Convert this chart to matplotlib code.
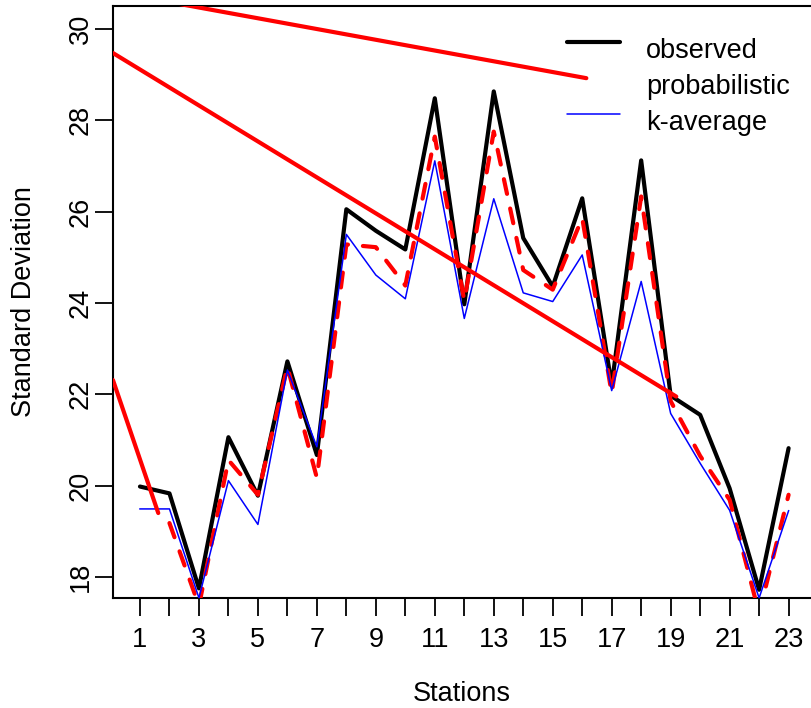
import numpy as np
import matplotlib
matplotlib.use("Agg")
import matplotlib.pyplot as plt

plt.rcParams['font.family'] = ['Liberation Sans', 'DejaVu Sans']

# ---- data ----
stations = np.arange(1, 24)
observed = [19.98, 19.83, 17.75, 21.06, 19.78, 22.72, 20.67, 26.05, 25.58, 25.17,
            28.48, 23.97, 28.63, 25.42, 24.36, 26.29, 22.2, 27.12, 21.97, 21.55,
            19.94, 17.72, 20.82]
probabilistic = [np.nan, 19.18, 17.37, 20.56, 19.8, 22.6, 20.17, 25.28, 25.22, 24.38,
                 27.64, 24.05, 27.75, 24.72, 24.29, 25.86, 22.02, 26.33, 21.85, 20.65,
                 19.69, 17.2, 19.8]
k_average = [19.49, 19.49, 17.54, 20.11, 19.15, 22.53, 20.85, 25.5, 24.61, 24.09,
             27.11, 23.66, 26.28, 24.22, 24.03, 25.05, 22.08, 24.47, 21.58, 20.49,
             19.46, 17.54, 19.45]

# stray red segments visible in the picture
stray_x = [[0.085, 1.62], [0.085, 19.19], [0.085, 16.14]]
stray_y = [[22.31, 19.40], [29.47, 21.95], [30.81, 28.92]]

legend_labels = ["observed", "probabilistic", "k-average"]
yticks = [18, 20, 22, 24, 26, 28, 30]
xtick_labels = [str(s) if s % 2 == 1 else "" for s in stations]

W, H = 811, 708
FS = 19.5
fig = plt.figure(figsize=(W / 100, H / 100), dpi=100)
ax = fig.add_axes([113 / W, 110 / H, (W - 113) / W, 592 / H])

ax.plot(stations, observed, color='black', lw=3, solid_joinstyle='round',
        solid_capstyle='round', zorder=3)
ax.plot(stations, probabilistic, color='red', lw=3, linestyle=(0, (3.6, 3.6)),
        dash_capstyle='round', dash_joinstyle='round', zorder=4)
ax.plot(stations, k_average, color='blue', lw=1.1, zorder=5)
for sx, sy in zip(stray_x, stray_y):
    ax.plot(sx, sy, color='red', lw=3, solid_capstyle='round', zorder=6)

ax.set_xlim(0.085, 23.76)
ax.set_ylim(17.54, 30.50)

ax.set_xticks(stations)
ax.set_xticklabels(xtick_labels, fontsize=FS)
ax.set_yticks(yticks)
ax.set_yticklabels([str(v) for v in yticks], fontsize=FS, rotation=90, va='center')
ax.tick_params(axis='x', length=13, width=1.3, pad=8, direction='out')
ax.tick_params(axis='y', length=13, width=1.3, pad=1, direction='out')
for s in ['left', 'bottom', 'top']:
    ax.spines[s].set_linewidth(1.5)
ax.spines['right'].set_visible(False)

fig.text(462 / W, 1 - 694 / H, "Stations", fontsize=FS, ha='center', va='center')
fig.text(24 / W, 1 - 302 / H, "Standard Deviation", fontsize=FS, ha='center', va='center',
         rotation=90)

# legend (drawn manually, no box)
leg_colors = ['black', 'red', 'blue']
leg_lw = [3, 3, 1.1]
for i, (lab, c, lw) in enumerate(zip(legend_labels, leg_colors, leg_lw)):
    base = 58.3 + 36 * i
    if i != 1:
        fig.add_artist(plt.Line2D([567 / W, 620 / W], [1 - (base - 16.6) / H] * 2,
                                  color=c, lw=lw, solid_capstyle='round'))
    fig.text(646 / W, 1 - base / H, lab, fontsize=FS, ha='left', va='baseline')

fig.savefig("out.png", dpi=100)
